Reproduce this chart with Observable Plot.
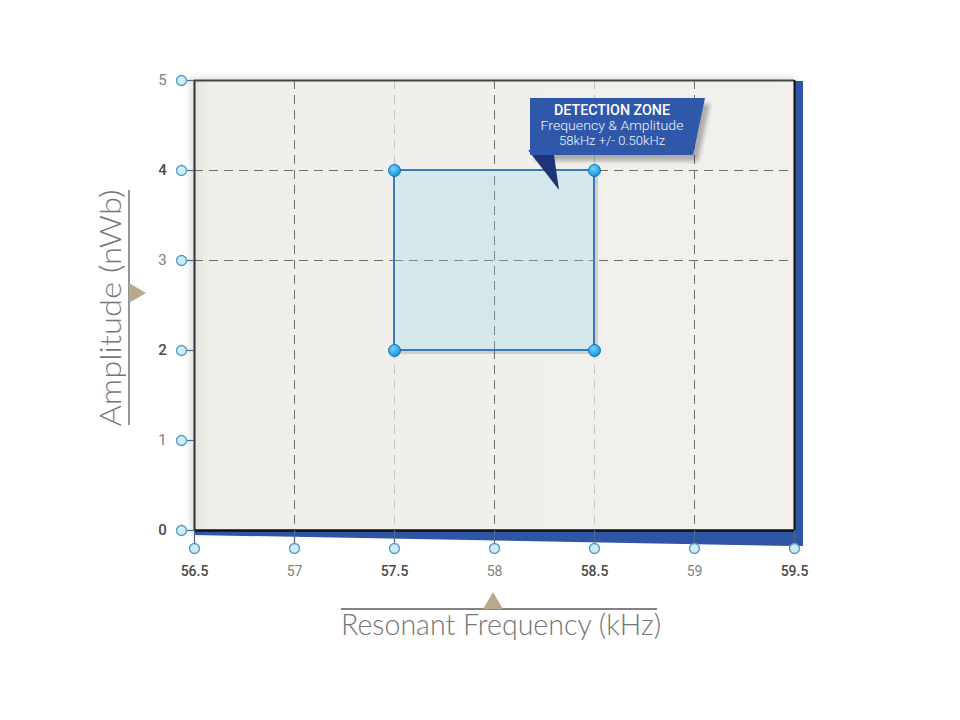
<!DOCTYPE html>
<html>
<head>
<meta charset="utf-8">
<script src="https://cdn.jsdelivr.net/npm/d3@7"></script>
<script src="https://cdn.jsdelivr.net/npm/@observablehq/plot@0.6"></script>
<style>
  html, body { margin: 0; padding: 0; background: #ffffff; }
  #chart svg { display: block; }
</style>
</head>
<body>
<div id="chart"></div>
<script>
// ---- data ----
const xTicks = [56.5, 57, 57.5, 58, 58.5, 59, 59.5];
const xTicksStrong = [56.5, 57.5, 58.5, 59.5];
const yTicks = [0, 1, 2, 3, 4, 5];
const yTicksStrong = [0, 2, 4];
const gridXMajor = [57, 58, 59];
const gridXMinor = [57.5, 58.5];
const gridY = [3, 4];
const zone = [{x1: 57.5, x2: 58.5, y1: 2, y2: 4}];
const zoneCorners = [
  {x: 57.5, y: 2}, {x: 57.5, y: 4}, {x: 58.5, y: 2}, {x: 58.5, y: 4}
];
const calloutAnchor = {x: 58.18, y: 4.8};
const calloutLines = ["DETECTION ZONE", "Frequency & Amplitude", "58kHz +/- 0.50kHz"];
const xTitle = "Resonant Frequency (kHz)";
const yTitle = "Amplitude (nWb)";

const sans = "Roboto, 'Open Sans', 'Liberation Sans', sans-serif";
const thin = "Lato, 'Open Sans', sans-serif";

// ---- decoration marks (positions from Plot's scales) ----
function defs() {
  const d = d3.create("svg:defs");
  const bg = d.append("linearGradient").attr("id", "bg").attr("x1", 0).attr("x2", 1).attr("y1", 0).attr("y2", 0);
  bg.append("stop").attr("offset", "0").attr("stop-color", "#e7e4df");
  bg.append("stop").attr("offset", "0.025").attr("stop-color", "#f0eeea");
  bg.append("stop").attr("offset", "1").attr("stop-color", "#f2f0ec");
  const dot = d.append("radialGradient").attr("id", "dotg").attr("cx", "0.4").attr("cy", "0.35").attr("r", "0.7");
  dot.append("stop").attr("offset", "0").attr("stop-color", "#6fd3ff");
  dot.append("stop").attr("offset", "1").attr("stop-color", "#0f8fd6");
  const f = d.append("filter").attr("id", "blur4").attr("x", "-20%").attr("y", "-20%").attr("width", "140%").attr("height", "140%");
  f.append("feGaussianBlur").attr("stdDeviation", 3);
  const f2 = d.append("filter").attr("id", "blur2").attr("x", "-20%").attr("y", "-20%").attr("width", "140%").attr("height", "140%");
  f2.append("feGaussianBlur").attr("stdDeviation", 2);
  return d.node();
}

function backDecor(index, scales) {
  const g = d3.create("svg:g");
  const x0 = scales.x(56.5), x1 = scales.x(59.5), y0 = scales.y(0), y5 = scales.y(5);
  g.append("rect").attr("x", x0 - 4).attr("y", y5 - 3).attr("width", x1 - x0 + 6).attr("height", y0 - y5 + 6)
    .attr("fill", "#000").attr("opacity", 0.12).attr("filter", "url(#blur4)");
  g.append("polygon")
    .attr("points", [[x1 + 1, y5 + 1], [x1 + 9, y5 + 1], [x1 + 9, y0 + 16], [x1, y0 + 16], [x0, y0 + 5], [x0, y0]].map(p => p.join(",")).join(" "))
    .attr("fill", "#2f55a6");
  return g.node();
}

function titles(index, scales) {
  const g = d3.create("svg:g");
  const x0 = scales.x(56.5), x1 = scales.x(59.5), y0 = scales.y(0), y5 = scales.y(5);
  const cx = (x0 + x1) / 2 + 5;
  g.append("line").attr("x1", cx - 158).attr("x2", cx + 158).attr("y1", y0 + 79).attr("y2", y0 + 79)
    .attr("stroke", "#5a5a5a").attr("stroke-width", 1.3);
  g.append("polygon").attr("points", `${cx - 16},${y0 + 79} ${cx - 6},${y0 + 62} ${cx + 4},${y0 + 79}`).attr("fill", "#b9a98b");
  g.append("text").attr("x", cx + 2).attr("y", y0 + 105).attr("text-anchor", "middle")
    .attr("font-family", thin).attr("font-weight", 300).attr("font-size", 30).attr("fill", "#767676")
    .attr("textLength", 320).attr("lengthAdjust", "spacingAndGlyphs")
    .text(xTitle);
  const cy = (y0 + y5) / 2 + 3;
  g.append("line").attr("x1", x0 - 65).attr("x2", x0 - 65).attr("y1", cy - 118).attr("y2", cy + 117)
    .attr("stroke", "#5a5a5a").attr("stroke-width", 1.3);
  g.append("polygon").attr("points", `${x0 - 65},${cy - 25} ${x0 - 48},${cy - 15} ${x0 - 65},${cy - 5}`).attr("fill", "#b9a98b");
  g.append("text").attr("transform", `translate(${x0 - 73},${cy}) rotate(-90)`).attr("text-anchor", "middle")
    .attr("font-family", thin).attr("font-weight", 300).attr("font-size", 30).attr("fill", "#767676")
    .attr("textLength", 237).attr("lengthAdjust", "spacingAndGlyphs")
    .text(yTitle);
  return g.node();
}

function callout(index, scales) {
  const g = d3.create("svg:g");
  const ax = scales.x(calloutAnchor.x), ay = scales.y(calloutAnchor.y);
  const box = [[0, 0], [175, 0], [163, 57], [0, 57]];
  const pts = (arr, dx = 0, dy = 0) => arr.map(([a, b]) => `${ax + a + dx},${ay + b + dy}`).join(" ");
  g.append("polygon").attr("points", pts(box, 5, 6)).attr("fill", "#000").attr("opacity", 0.28).attr("filter", "url(#blur2)");
  g.append("polygon").attr("points", pts([[-2, 52], [24, 57], [29, 92]])).attr("fill", "#1f3478");
  g.append("polygon").attr("points", pts(box)).attr("fill", "#2f58aa");
  const mid = ax + 82;
  g.append("text").attr("x", mid).attr("y", ay + 16.5).attr("text-anchor", "middle").attr("font-family", sans)
    .attr("font-size", 14.5).attr("font-weight", 500).attr("fill", "#ffffff")
    .attr("textLength", 116).attr("lengthAdjust", "spacingAndGlyphs").text(calloutLines[0]);
  g.append("text").attr("x", mid).attr("y", ay + 31.5).attr("text-anchor", "middle").attr("font-family", sans)
    .attr("font-size", 13).attr("font-weight", 300).attr("fill", "#f2f5fc")
    .attr("textLength", 143).attr("lengthAdjust", "spacingAndGlyphs").text(calloutLines[1]);
  g.append("text").attr("x", mid).attr("y", ay + 47).attr("text-anchor", "middle").attr("font-family", sans)
    .attr("font-size", 13).attr("font-weight", 300).attr("fill", "#f2f5fc")
    .attr("textLength", 106).attr("lengthAdjust", "spacingAndGlyphs").text(calloutLines[2]);
  return g.node();
}

const chart = Plot.plot({
  width: 960,
  height: 720,
  marginLeft: 194,
  marginRight: 166,
  marginTop: 80,
  marginBottom: 190,
  style: {background: "#ffffff", overflow: "visible"},
  x: {domain: [56.5, 59.5], axis: null},
  y: {domain: [0, 5], axis: null},
  marks: [
    defs,
    backDecor,
    Plot.frame({fill: "url(#bg)", stroke: "none"}),
    Plot.ruleX(gridXMinor, {stroke: "#c4c4c4", strokeWidth: 1, strokeDasharray: "9,6"}),
    Plot.ruleX(gridXMajor, {stroke: "#6e6e6e", strokeWidth: 1, strokeDasharray: "9,6"}),
    Plot.ruleY(gridY, {stroke: "#6e6e6e", strokeWidth: 1, strokeDasharray: "9,6"}),
    Plot.rect(zone, {x1: "x1", x2: "x2", y1: "y1", y2: "y2", dx: 4, dy: 4, fill: "#000", fillOpacity: 0.13}),
    Plot.rect(zone, {x1: "x1", x2: "x2", y1: "y1", y2: "y2", fill: "#d4e8eb", fillOpacity: 0.96}),
    Plot.ruleX(gridXMajor.filter(v => v === 58), {y1: 2, y2: 4, stroke: "#6e6e6e", strokeWidth: 1, strokeDasharray: "9,6", strokeOpacity: 0.8}),
    Plot.ruleY(gridY.filter(v => v === 3), {x1: 57.5, x2: 58.5, stroke: "#6e6e6e", strokeWidth: 1, strokeDasharray: "9,6", strokeOpacity: 0.8}),
    Plot.rect(zone, {x1: "x1", x2: "x2", y1: "y1", y2: "y2", fill: "none", stroke: "#3a79bd", strokeWidth: 2}),
    Plot.ruleX([56.5], {stroke: "#333333", strokeWidth: 2}),
    Plot.ruleX([59.5], {stroke: "#111111", strokeWidth: 2}),
    Plot.ruleY([5], {stroke: "#444444", strokeWidth: 2}),
    Plot.ruleY([0], {stroke: "#111111", strokeWidth: 2.5}),
    Plot.axisX({ticks: xTicks, tickSize: 13, tickFormat: () => "", label: null, stroke: "#4b6b84", strokeWidth: 1.2}),
    Plot.axisY({ticks: yTicks, tickSize: 8, tickFormat: () => "", label: null, stroke: "#4b6b84", strokeWidth: 1.2}),
    Plot.dot(xTicks, {x: d => d, y: d => 0, dy: 18, r: 5, fill: "#d3eaf3", stroke: "#4c9dca", strokeWidth: 1.3}),
    Plot.dot(yTicks, {x: d => 56.5, y: d => d, dx: -13, r: 5, fill: "#d3eaf3", stroke: "#4c9dca", strokeWidth: 1.3}),
    Plot.text(xTicks.filter(v => !xTicksStrong.includes(v)), {x: d => d, y: d => 0, dy: 41, text: d => String(d), fontFamily: sans, fontSize: 14, fill: "#808080"}),
    Plot.text(xTicksStrong, {x: d => d, y: d => 0, dy: 41, text: d => String(d), fontFamily: sans, fontSize: 14, fontWeight: 500, fill: "#4a4a4a"}),
    Plot.text(yTicks.filter(v => !yTicksStrong.includes(v)), {x: d => 56.5, y: d => d, dx: -32, text: d => String(d), fontFamily: sans, fontSize: 15, fill: "#808080"}),
    Plot.text(yTicksStrong, {x: d => 56.5, y: d => d, dx: -32, text: d => String(d), fontFamily: sans, fontSize: 15, fontWeight: 500, fill: "#4a4a4a"}),
    Plot.dot(zoneCorners, {x: "x", y: "y", r: 6, fill: "url(#dotg)", stroke: "#1573b5", strokeWidth: 1}),
    callout,
    titles
  ]
});
document.getElementById("chart").append(chart);
</script>
</body>
</html>
